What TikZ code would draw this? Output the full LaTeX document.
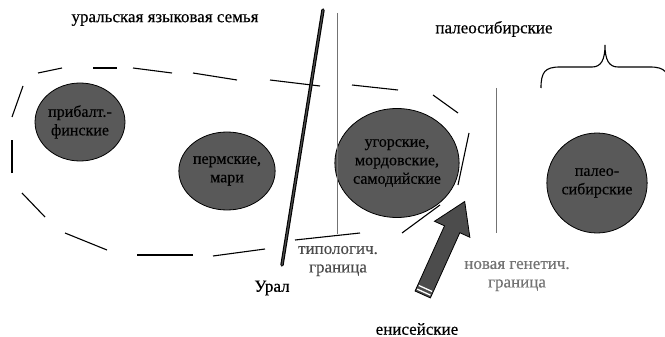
\documentclass[tikz,border=0pt]{standalone}
\usepackage{fontspec}
\setmainfont{LiberationSerif}[Extension=.ttf,UprightFont=*-Regular,BoldFont=*-Bold,FakeBold=0.4]
\usetikzlibrary{shapes.geometric, shapes.arrows, calc}

\begin{document}
\begin{tikzpicture}[x=1pt,y=-1pt,
    font=\rmfamily\fontsize{17}{18.5}\selectfont,
    lang/.style={ellipse,draw,thick,fill=black!65,inner sep=0pt,align=center,
        font=\rmfamily\fontsize{16}{18.5}\selectfont},
    lbl/.style={align=center,inner sep=1pt},
    bord/.style={line width=0.8pt,black!55},
    seg/.style={line width=1.1pt}]
    \useasboundingbox (0,0) rectangle (665,337);

    % languages
    \node[lang,minimum width=80pt,minimum height=78pt] (fin) at (80,122) {прибалт.-\\финские};
    \node[lang,minimum width=89pt,minimum height=78pt] (perm) at (227,171) {пермские,\\мари};
    \node[lang,minimum width=102pt,minimum height=109pt] (ugr) at (397,163) {угорские,\\мордовские,\\самодийские};
    \node[lang,minimum width=90pt,minimum height=100pt] (pal) at (597,183) {палео-\\сибирские};

    % labels
    \node[lbl] (fam) at (165,20) {уральская языковая семья};
    \node[lbl] (paleo) at (494,29) {палеосибирские};
    \node[lbl] (ural) at (272,288) {Урал};
    \node[lbl,black!70] (typ) at (338,261) {типологич.\\граница};
    \node[lbl,black!55] (gen) at (517,276) {новая генетич.\\граница};
    \node[lbl] (yen) at (417,329) {енисейские};

    % dashed border of the family
    \foreach \xa/\ya/\xb/\yb in {38/73/62/68, 93/68/117/68, 133/68/172/73, 193/73/237/80,
        270/80/320/86, 352/85/398/90, 433/95/458/113, 469/133/458/185, 440/205/402/233,
        360/233/295/240, 265/249/213/256, 193/255/137/255, 107/250/65/233, 45/217/22/193,
        12/173/12/140, 12/117/23/86}
        \draw[seg] (\xa,\ya) -- (\xb,\yb);

    % boundaries
    \coordinate (t1) at (337,13);
    \coordinate (t2) at (337,234);
    \coordinate (g1) at (496,88);
    \coordinate (g2) at (496,233);
    \coordinate (u1) at (323,10);
    \coordinate (u2) at (282,265);
    \draw[bord] (t1) -- (t2);
    \draw[bord] (g1) -- (g2);
    \draw[line width=1.1pt,double=black!70,double distance=1.2pt,line cap=round] (u1) -- (u2);

    % brace
    \draw[line width=1.1pt] (541,88) .. controls (541,72) and (545,67) .. (560,67) -- (592,67)
        .. controls (601,67) and (605,60) .. (605,45) .. controls (605,60) and (609,67) .. (618,67)
        -- (650,67) .. controls (665,67) and (669,72) .. (669,88);

    % arrow of the Yenisei languages
    \node[single arrow,draw,thick,fill=black!70,minimum height=102pt,minimum width=38pt,
        single arrow head extend=11pt,single arrow tip angle=65,single arrow head indent=0pt,
        inner xsep=0pt,inner ysep=8pt,rotate=65.7] (arr) at (441,254) {};
    \foreach \s in {3,7}
        \draw[white,line width=1.3pt] ($(arr.tail)!\s pt!(arr.tip)!7.3pt!90:(arr.tip)$)
            -- ($(arr.tail)!\s pt!(arr.tip)!7.3pt!-90:(arr.tip)$);
\end{tikzpicture}
\end{document}
